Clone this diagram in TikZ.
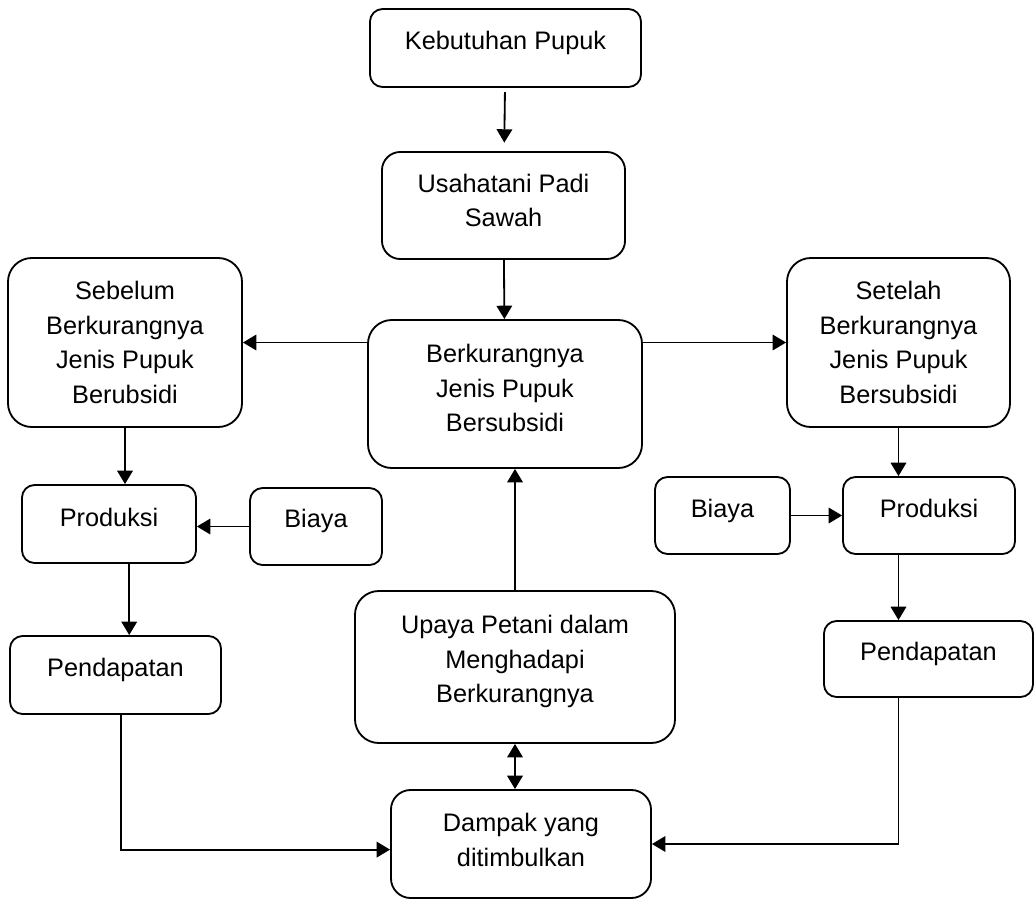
\documentclass[tikz,border=0pt]{standalone}
\usepackage{fontspec}
\setmainfont{Liberation Sans}
\usetikzlibrary{arrows.meta}
\newcommand{\txtlift}[1]{\rule[-#1]{0pt}{0pt}}

\begin{document}
\begin{tikzpicture}[x=0.025cm, y=-0.025cm, line width=1.3pt, font=\fontsize{18}{24.5}\selectfont]
	\tikzstyle{box} = [draw, rectangle, rounded corners=9pt, align=center, inner sep=2pt]
	\tikzstyle{bigbox} = [box, rounded corners=17pt]
	\tikzstyle{arr} = [-{Triangle[length=9.5pt,width=11pt]}]
	\useasboundingbox (0,0) rectangle (1035,901);

	\node[box, minimum width=6.775cm, minimum height=1.95cm] (keb) at (505.5,48) {Kebutuhan Pupuk\txtlift{11.4pt}};
	\node[box, rounded corners=13pt, minimum width=6.075cm, minimum height=2.675cm] (usa) at (503.5,205.5) {Usahatani Padi\\Sawah\txtlift{7pt}};
	\node[bigbox, minimum width=6.85cm, minimum height=3.7cm] (berk) at (505,394) {Berkurangnya\\Jenis Pupuk\\Bersubsidi\txtlift{8.5pt}};
	\node[bigbox, minimum width=5.85cm, minimum height=4.225cm] (seb) at (125,342.5) {Sebelum\\Berkurangnya\\Jenis Pupuk\\Berubsidi};
	\node[bigbox, minimum width=5.575cm, minimum height=4.225cm] (set) at (898.5,342.5) {Setelah\\Berkurangnya\\Jenis Pupuk\\Bersubsidi};
	\node[box, minimum width=4.35cm, minimum height=1.95cm] (prodL) at (109,524) {Produksi\txtlift{10pt}};
	\node[box, minimum width=3.3cm, minimum height=1.925cm] (biayaL) at (316,526.5) {Biaya\txtlift{12pt}};
	\node[box, minimum width=4.3cm, minimum height=1.925cm] (prodR) at (929,515.5) {Produksi\txtlift{10.7pt}};
	\node[box, minimum width=3.375cm, minimum height=1.925cm] (biayaR) at (722.5,515.5) {Biaya\txtlift{10.7pt}};
	\node[box, minimum width=5.275cm, minimum height=1.95cm] (pendL) at (115.5,675) {Pendapatan\txtlift{11.4pt}};
	\node[bigbox, minimum width=8cm, minimum height=3.8cm] (upaya) at (515,667) {Upaya Petani dalam\\Menghadapi\\Berkurangnya\txtlift{11.4pt}};
	\node[bigbox, rounded corners=14pt, minimum width=6.5cm, minimum height=2.7cm] (dampak) at (521,844) {Dampak yang\\ditimbulkan\txtlift{5.7pt}};
	\node[box, minimum width=5.225cm, minimum height=1.9cm] (pendR) at (928.5,659) {Pendapatan\txtlift{11.4pt}};

	\draw[arr, shorten <=3pt, shorten >=6pt] (keb) -- (usa);
	\draw[arr] (usa) -- (berk);
	\draw[arr] (berk.west |- seb.east) -- (seb.east);
	\draw[arr] (berk.east |- set.west) -- (set.west);
	\draw[arr] (seb.south) -- (seb.south |- prodL.north);
	\draw[arr] (biayaL.west) -- (biayaL.west -| prodL.east);
	\draw[arr] (set.south) -- (set.south |- prodR.north);
	\draw[arr] (biayaR.east) -- (biayaR.east -| prodR.west);
	\draw[arr] ([xshift=3pt]seb.south |- prodL.south) -- ([xshift=3pt]seb.south |- pendL.north);
	\draw[arr] (set.south |- prodR.south) -- (set.south |- pendR.north);
	\draw[arr] (upaya.north) -- (upaya.north |- berk.south);
	\draw[{Triangle[length=9.5pt,width=11pt]}-{Triangle[length=9.5pt,width=11pt]}] (upaya.south) -- (upaya.south |- dampak.north);
	\draw[arr] ([xshift=-3pt]seb.south |- pendL.south) -- ([xshift=-3pt,yshift=-4pt]seb.south |- dampak.west) -- ([yshift=-4pt]dampak.west);
	\draw[arr] (set.south |- pendR.south) -- (set.south |- dampak.east) -- (dampak.east);
\end{tikzpicture}
\end{document}
